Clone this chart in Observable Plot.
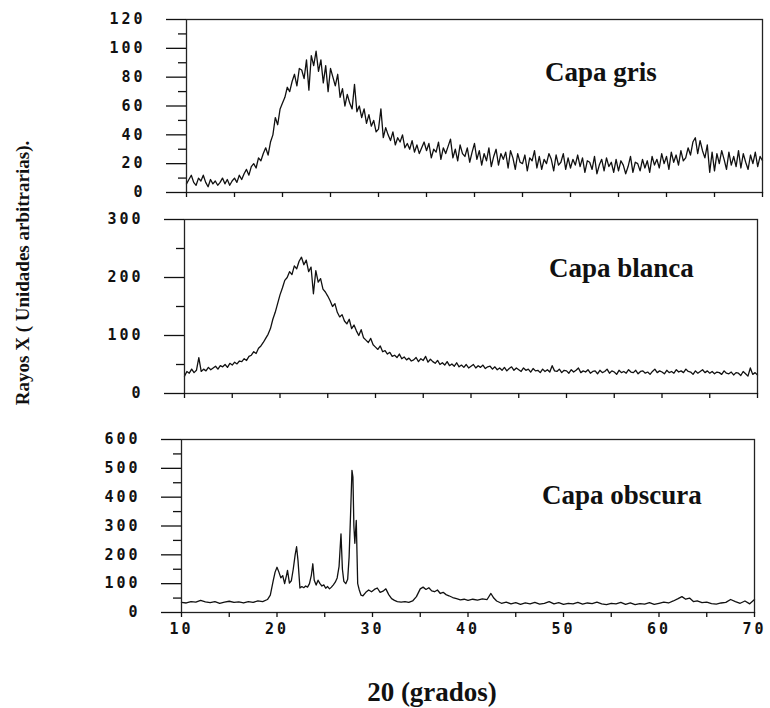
<!DOCTYPE html>
<html><head><meta charset="utf-8">
<script src="https://cdn.jsdelivr.net/npm/d3@7"></script>
<script src="https://cdn.jsdelivr.net/npm/@observablehq/plot@0.6"></script>
<style>
body{margin:0;background:#fff;}
#wrap{position:relative;width:770px;height:708px;overflow:hidden;font-family:"Liberation Serif","Times New Roman",serif;color:#111;}
.panel{position:absolute;left:0;}
.lbl{position:absolute;font-weight:bold;font-size:27px;line-height:1;white-space:nowrap;}
#ytitle{position:absolute;left:22px;top:273px;transform:translate(-50%,-50%) rotate(-90deg);font-weight:bold;font-size:19px;white-space:nowrap;line-height:1;}
</style></head><body><div id="wrap"></div>
<script>
// ---- data ----
const xStart = 10, xStep = 0.25;           // 2θ grid for "Capa gris" and "Capa blanca"
const xTicks = [10, 15, 20, 25, 30, 35, 40, 45, 50, 55, 60, 65, 70];
const xTickLabels = ["10", "", "20", "", "30", "", "40", "", "50", "", "60", "", "70"];

const grisValues = [
  6, 9, 12, 7,   5, 10, 8, 12,   7, 4, 9, 6,    8, 5, 7, 10,   6, 9, 5, 8,
  10, 7, 12, 9,  13, 16, 12, 18, 20, 17, 24, 22, 27, 31, 26, 35, 40, 52, 47, 58,
  62, 66, 73, 70, 77, 82, 74, 86, 85, 79, 92, 71, 95, 88, 98, 84, 92, 76, 88, 70,
  86, 80, 74, 82, 66, 72, 60, 68, 62, 58, 75, 56, 60, 52, 58, 48, 54, 46, 50, 42,
  44, 58, 38, 45, 40, 36, 42, 33, 38, 35, 40, 31, 34, 30, 36, 28, 33, 27, 31, 35,
  29, 34, 24, 30, 28, 35, 23, 31, 27, 32, 37, 24, 30, 22, 33, 27, 25, 31, 21, 28,
  34, 23, 29, 19, 27, 22, 31, 18, 25, 30, 19, 27, 23, 28, 17, 29, 24, 16, 27, 21,
  20, 26, 15, 24, 22, 29, 17, 25, 16, 23, 20, 27, 23, 15, 26, 19, 21, 27, 16, 24,
  17, 23, 19, 26, 18, 24, 14, 22, 21, 16, 25, 13, 19, 23, 15, 24, 18, 21, 14, 23,
  15, 22, 19, 13, 18, 25, 14, 21, 20, 15, 23, 17, 22, 14, 25, 19, 23, 17, 27, 20,
  25, 16, 28, 21, 26, 19, 29, 22, 24, 31, 26, 35, 38, 27, 36, 29, 24, 33, 14, 28,
  15, 27, 20, 29, 23, 16, 28, 19, 25, 18, 29, 17, 27, 21, 16, 26, 20, 28, 18, 25,
  22
];

const blancaValues = [
  30, 38, 35, 42, 36, 40, 62, 38, 42, 39, 45, 41, 44, 47, 42, 48, 46, 50, 45, 52,
  49, 54, 51, 56, 55, 60, 57, 64, 66, 72, 69, 78, 82, 88, 95, 102, 112, 128, 140, 155,
  170, 182, 195, 200, 210, 205, 220, 215, 228, 235, 222, 230, 210, 218, 172, 212, 192, 198, 180, 175,
  168, 160, 150, 155, 140, 132, 136, 125, 120, 128, 112, 118, 108, 100, 110, 96, 92, 88, 95, 84,
  80, 76, 82, 72, 74, 68, 71, 64, 66, 62, 68, 60, 63, 58, 61, 56, 58, 62, 55, 60,
  57, 64, 54, 59, 55, 52, 57, 50, 53, 49, 55, 48, 51, 47, 53, 46, 49, 45, 50, 44,
  47, 50, 44, 48, 45, 49, 43, 46, 47, 42, 46, 41, 44, 40, 45, 39, 43, 46, 40, 44,
  41, 38, 44, 40, 42, 37, 43, 39, 40, 36, 42, 38, 41, 37, 48, 39, 38, 42, 36, 40,
  39, 35, 41, 37, 40, 44, 36, 39, 37, 41, 35, 38, 39, 34, 40, 36, 38, 42, 35, 39,
  37, 33, 40, 36, 38, 35, 41, 37, 36, 40, 34, 38, 39, 35, 37, 33, 38, 42, 36, 39,
  37, 34, 40, 36, 38, 35, 41, 37, 39, 36, 42, 38, 37, 33, 39, 35, 38, 41, 36, 39,
  35, 38, 34, 37, 36, 33, 39, 35, 34, 37, 32, 36, 35, 31, 38, 34, 30, 44, 33, 36,
  32
];

const obscuraX = [
  10, 10.5, 11, 11.5, 12, 12.5, 13, 13.5, 14, 14.5, 15, 15.5, 16, 16.5, 17, 17.5, 18, 18.5, 19,
  19.3, 19.6, 19.8, 20.0, 20.2, 20.4, 20.6, 20.8, 21.0, 21.1, 21.3, 21.5, 21.7, 21.9, 22.05, 22.2, 22.4,
  22.6, 22.8, 23.0, 23.2, 23.4, 23.6, 23.75, 23.9, 24.1, 24.3, 24.5, 24.7, 24.9, 25.1, 25.3, 25.5, 25.7,
  25.9, 26.1, 26.3, 26.5, 26.7, 26.85, 27.0, 27.2, 27.4, 27.55, 27.7, 27.85, 27.95, 28.05, 28.15, 28.3,
  28.45, 28.6, 28.8, 29.0, 29.3, 29.6, 29.9, 30.2, 30.5, 30.8, 31.1, 31.4, 31.7, 32.0, 32.3, 32.6, 33.0,
  33.4, 33.8, 34.2, 34.6, 35.0, 35.3, 35.6, 35.9, 36.2, 36.5, 36.8, 37.1, 37.4, 37.7, 38.0, 38.4, 38.8,
  39.2, 39.6, 40.0, 40.5, 41.0, 41.5, 42.0, 42.4, 42.7, 43.0, 43.5, 44, 44.5, 45, 45.5, 46, 46.5, 47,
  47.5, 48, 48.5, 49, 49.5, 50, 50.5, 51, 51.5, 52, 52.5, 53, 53.5, 54, 54.5, 55, 55.5, 56, 56.5, 57,
  57.5, 58, 58.5, 59, 59.5, 60, 60.5, 61, 61.5, 62, 62.4, 62.8, 63.2, 63.6, 64, 64.5, 65, 65.5, 66,
  66.5, 67, 67.5, 68, 68.5, 69, 69.5, 70
];
const obscuraY = [
  35, 33, 38, 36, 42, 37, 34, 38, 32, 36, 39, 35, 37, 33, 38, 35, 40, 38, 45,
  60, 110, 140, 157, 140, 120, 128, 100, 130, 146, 102, 110, 150, 200, 228, 180, 85,
  90, 86, 92, 88, 100, 130, 169, 112, 95, 112, 100, 92, 96, 84, 90, 82, 88,
  96, 105, 120, 160, 273, 150, 108, 100, 115, 192, 337, 493, 470, 300, 240, 319,
  100, 80, 60, 58, 70, 78, 72, 80, 85, 70, 74, 82, 62, 48, 42, 38, 36,
  38, 35, 40, 55, 82, 88, 80, 86, 75, 72, 78, 66, 70, 62, 58, 52, 48,
  44, 46, 42, 46, 43, 47, 45, 66, 50, 40, 32, 36, 30, 34, 28, 33, 30, 35,
  29, 32, 38, 30, 34, 28, 32, 30, 35, 29, 33, 31, 36, 30, 27, 32, 30, 35, 28, 33,
  27, 31, 29, 34, 28, 32, 36, 33, 40, 48, 55, 46, 50, 38, 40, 34, 36, 31, 29,
  33, 35, 45, 38, 32, 40, 30, 45
];

const panelNames = ["Capa gris", "Capa blanca", "Capa obscura"];
const yMaxes = [120, 300, 600];
const yMajorTicks = [[0, 20, 40, 60, 80, 100, 120], [0, 100, 200, 300], [0, 100, 200, 300, 400, 500, 600]];
const yMinorTicks = [[10, 30, 50, 70, 90, 110], [50, 150, 250], [50, 150, 250, 350, 450, 550]];
const xTitle = "20 (grados)";
const yTitle = "Rayos X ( Unidades arbitrarias).";

// ---- build ----
const gris = grisValues.map((v, i) => ({x: xStart + i * xStep, y: v}));
const blanca = blancaValues.map((v, i) => ({x: xStart + i * xStep, y: v}));
const obscura = obscuraX.map((x, i) => ({x, y: obscuraY[i]}));
const series = [gris, blanca, obscura];

const layout = [
  {top: 0, height: 210, mt: 19, mb: 18, left: 186, right: 762, lx: 545, ly: 59},
  {top: 200, height: 210, mt: 19, mb: 17, left: 184, right: 757, lx: 549, ly: 255},
  {top: 420, height: 240, mt: 19, mb: 48, left: 181, right: 754, lx: 542, ly: 482}
];

const blank = () => "";
const wrap = document.getElementById("wrap");
series.forEach((data, k) => {
  const L = layout[k];
  const last = k === 2;
  const svg = Plot.plot({
    width: 770,
    height: L.height,
    marginLeft: L.left,
    marginRight: 770 - L.right,
    marginTop: L.mt,
    marginBottom: L.mb,
    x: {domain: [10, 70], label: null},
    y: {domain: [0, yMaxes[k]], label: null},
    style: {background: "transparent", color: "#111", fontFamily: "'DejaVu Sans Mono', monospace", fontSize: "15px", fontWeight: "bold", letterSpacing: "3px", overflow: "visible"},
    marks: [
      Plot.line(data, {x: "x", y: "y", stroke: "#111", strokeWidth: 1.3}),
      Plot.frame({stroke: "#222", strokeWidth: 1.3}),
      Plot.axisY({ticks: yMajorTicks[k], label: null, tickSize: 20, tickPadding: 21, strokeWidth: 1.3, tickFormat: d => String(d)}),
      Plot.axisY({ticks: yMinorTicks[k], label: null, tickSize: 8, strokeWidth: 1.3, tickFormat: blank}),
      Plot.axisX({ticks: xTicks, label: null, tickSize: 5, tickPadding: 6, strokeWidth: 1.3,
        tickFormat: last ? (d => xTickLabels[xTicks.indexOf(d)]) : blank})
    ]
  });
  svg.classList.add("panel");
  svg.style.top = L.top + "px";
  svg.style.position = "absolute";
  wrap.appendChild(svg);

  const lbl = document.createElement("div");
  lbl.className = "lbl";
  lbl.textContent = panelNames[k];
  lbl.style.left = L.lx + "px";
  lbl.style.top = L.ly + "px";
  wrap.appendChild(lbl);
});

const xt = document.createElement("div");
xt.className = "lbl";
xt.textContent = xTitle;
xt.style.left = "432px";
xt.style.top = "679px";
xt.style.transform = "translateX(-50%)";
wrap.appendChild(xt);

const yt = document.createElement("div");
yt.id = "ytitle";
yt.textContent = yTitle;
wrap.appendChild(yt);
</script>
</body></html>
